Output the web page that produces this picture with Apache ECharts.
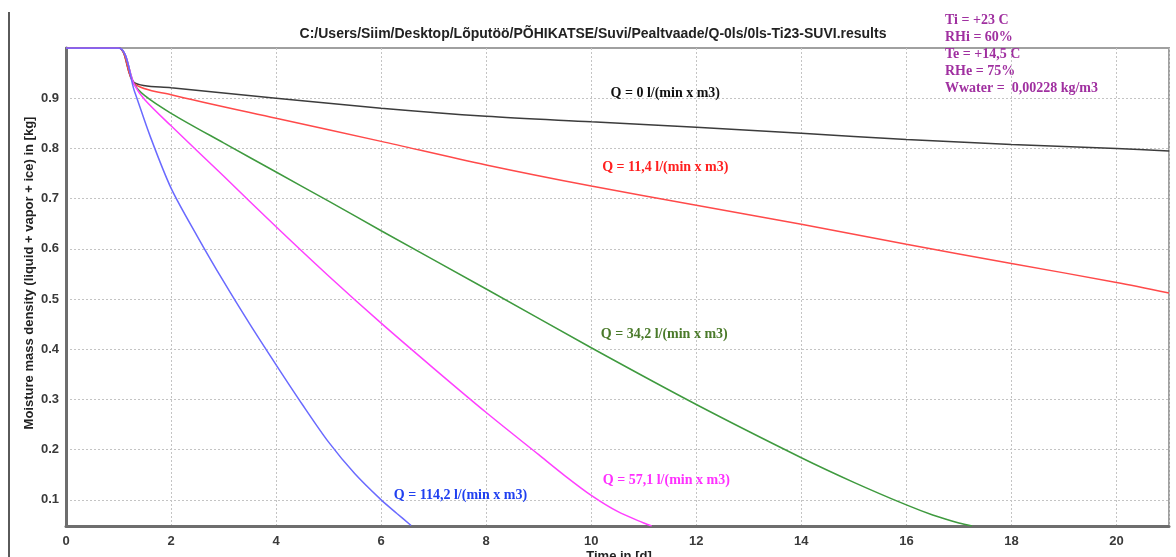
<!DOCTYPE html>
<html>
<head>
<meta charset="utf-8">
<script src="https://cdn.jsdelivr.net/npm/echarts@6/dist/echarts.min.js"></script>
<style>
  html, body { margin: 0; padding: 0; background: #ffffff; }
  #chart { width: 1176px; height: 557px; }
</style>
</head>
<body>
<div id="chart"></div>
<script>
// Moisture mass density vs. time for five ventilation rates
const titleText = 'C:/Users/Siim/Desktop/Lõputöö/PÕHIKATSE/Suvi/Pealtvaade/Q-0ls/0ls-Ti23-SUVI.results';
const xAxisTitle = 'Time in [d]';
const yAxisTitle = 'Moisture mass density (liquid + vapor + ice) in [kg]';
const yTickValues = [0.1, 0.2, 0.3, 0.4, 0.5, 0.6, 0.7, 0.8, 0.9];
const conditionLines = ['Ti = +23 C', 'RHi = 60%', 'Te = +14,5 C', 'RHe = 75%', 'Wwater =  0,00228 kg/m3'];

const seriesNames = [
  'Q = 0 l/(min x m3)',
  'Q = 11,4 l/(min x m3)',
  'Q = 34,2 l/(min x m3)',
  'Q = 57,1 l/(min x m3)',
  'Q = 114,2 l/(min x m3)'
];

// time [d] and moisture [kg] for each ventilation rate
const timeQ0 = [0, 1, 1.3, 2, 4, 6, 8, 10, 12, 14, 16, 18, 20, 21];
const moistQ0 = [1.0, 1.0, 0.931, 0.921, 0.900, 0.880, 0.864, 0.853, 0.842, 0.830, 0.818, 0.808, 0.800, 0.795];

const timeQ11 = [0, 1, 1.3, 2, 4, 6, 8, 10, 12, 14, 16, 18, 20, 21];
const moistQ11 = [1.0, 1.0, 0.929, 0.907, 0.860, 0.814, 0.767, 0.725, 0.687, 0.649, 0.609, 0.571, 0.533, 0.512];

const timeQ34 = [0, 1, 1.3, 1.5, 2, 3, 4, 5, 6, 8, 10, 12, 14, 15, 16, 16.5, 17, 17.25];
const moistQ34 = [1.0, 1.0, 0.928, 0.905, 0.870, 0.811, 0.753, 0.695, 0.636, 0.520, 0.403, 0.290, 0.184, 0.135, 0.090, 0.070, 0.054, 0.048];

const timeQ57 = [0, 1, 1.3, 1.5, 2, 3, 4, 5, 6, 7, 8, 9, 9.5, 10, 10.5, 11, 11.15];
const moistQ57 = [1.0, 1.0, 0.927, 0.897, 0.845, 0.745, 0.644, 0.546, 0.452, 0.362, 0.274, 0.190, 0.148, 0.109, 0.077, 0.054, 0.048];

const timeQ114 = [0, 1, 1.3, 1.6, 2, 2.5, 3, 3.5, 4, 4.5, 5, 5.5, 6, 6.3, 6.57];
const moistQ114 = [1.0, 1.0, 0.915, 0.825, 0.721, 0.625, 0.535, 0.450, 0.369, 0.290, 0.215, 0.152, 0.100, 0.073, 0.049];

const pairs = (xs, ys) => xs.map((x, i) => [x, ys[i]]);

const curveData = [
  pairs(timeQ0, moistQ0),
  pairs(timeQ11, moistQ11),
  pairs(timeQ34, moistQ34),
  pairs(timeQ57, moistQ57),
  pairs(timeQ114, moistQ114)
];

const lineColors = ['#3c3c3c', '#ff4a4a', '#3f9a3f', '#ff40ff', '#6a6aff'];
const labelColors = ['#111111', '#ff2020', '#4a7a2a', '#ff30ff', '#2040f0'];
// anchor (time, moisture) of each curve's caption
const labelAnchors = [[11.41, 0.909], [11.41, 0.763], [11.39, 0.430], [11.43, 0.139], [7.51, 0.108]];

const serifBold = { fontFamily: '"Liberation Serif", "Times New Roman", serif', fontWeight: 'bold', fontSize: 14 };
const sansBold = { fontFamily: '"Liberation Sans", Arial, sans-serif', fontWeight: 'bold' };

const chart = echarts.init(document.getElementById('chart'), null, { renderer: 'canvas' });

const series = seriesNames.map((name, i) => ({
  name: name,
  type: 'line',
  data: curveData[i],
  showSymbol: false,
  smooth: 0.3,
  clip: true,
  lineStyle: { color: lineColors[i], width: 1.5 },
  itemStyle: { color: lineColors[i] },
  z: 3 + i,
  markPoint: {
    symbol: 'circle',
    symbolSize: 1,
    silent: true,
    itemStyle: { color: 'rgba(0,0,0,0)' },
    label: {
      show: true,
      position: 'inside',
      formatter: name,
      color: labelColors[i],
      ...serifBold
    },
    data: [{ coord: labelAnchors[i] }]
  }
}));

const graphics = [
  // window edge line on the left
  { type: 'line', shape: { x1: 9, y1: 12, x2: 9, y2: 557 }, style: { stroke: '#5a5a5a', lineWidth: 2 }, silent: true },
  {
    type: 'text', x: 593, y: 34,
    style: { text: titleText, textAlign: 'center', textVerticalAlign: 'middle', fill: '#222222', fontSize: 14, ...sansBold }
  },
  {
    type: 'text', x: 29, y: 273, rotation: Math.PI / 2,
    style: { text: yAxisTitle, textAlign: 'center', textVerticalAlign: 'middle', fill: '#222222', fontSize: 13, ...sansBold }
  },
  {
    type: 'text', x: 619, y: 550,
    style: { text: xAxisTitle, textAlign: 'center', textVerticalAlign: 'top', fill: '#222222', fontSize: 13, ...sansBold }
  }
];
conditionLines.forEach((line, i) => {
  graphics.push({
    type: 'text', x: 945, y: 20 + i * 17,
    style: { text: line, textAlign: 'left', textVerticalAlign: 'middle', fill: '#a030a0', ...serifBold }
  });
});

chart.setOption({
  animation: false,
  backgroundColor: '#ffffff',
  grid: {
    left: 66, right: 7, top: 48, bottom: 31,
    show: true, borderColor: '#a0a0a0', borderWidth: 2,
    containLabel: false,
    outerBoundsMode: 'none'
  },
  xAxis: {
    type: 'value',
    min: 0, max: 21, interval: 2,
    axisLine: { show: true, onZero: false, lineStyle: { color: '#6e6e6e', width: 3 } },
    axisTick: { show: false },
    axisLabel: {
      show: true, margin: 9, color: '#3a3a3a', fontSize: 13, ...sansBold,
      showMaxLabel: false,
      formatter: v => (v % 2 === 0 ? String(v) : '')
    },
    splitLine: { show: true, lineStyle: { color: '#c4c4c4', type: [2, 2], width: 1 } }
  },
  yAxis: {
    type: 'value',
    min: 0.048, max: 1.0,
    axisLine: { show: true, onZero: false, lineStyle: { color: '#6e6e6e', width: 3 } },
    axisTick: { show: false, customValues: yTickValues },
    axisLabel: {
      show: true, margin: 7, color: '#3a3a3a', fontSize: 13, ...sansBold,
      customValues: yTickValues,
      formatter: v => v.toFixed(1)
    },
    splitLine: { show: true, lineStyle: { color: '#c4c4c4', type: [2, 2], width: 1 } }
  },
  series: series,
  graphic: graphics
});
</script>
</body>
</html>
